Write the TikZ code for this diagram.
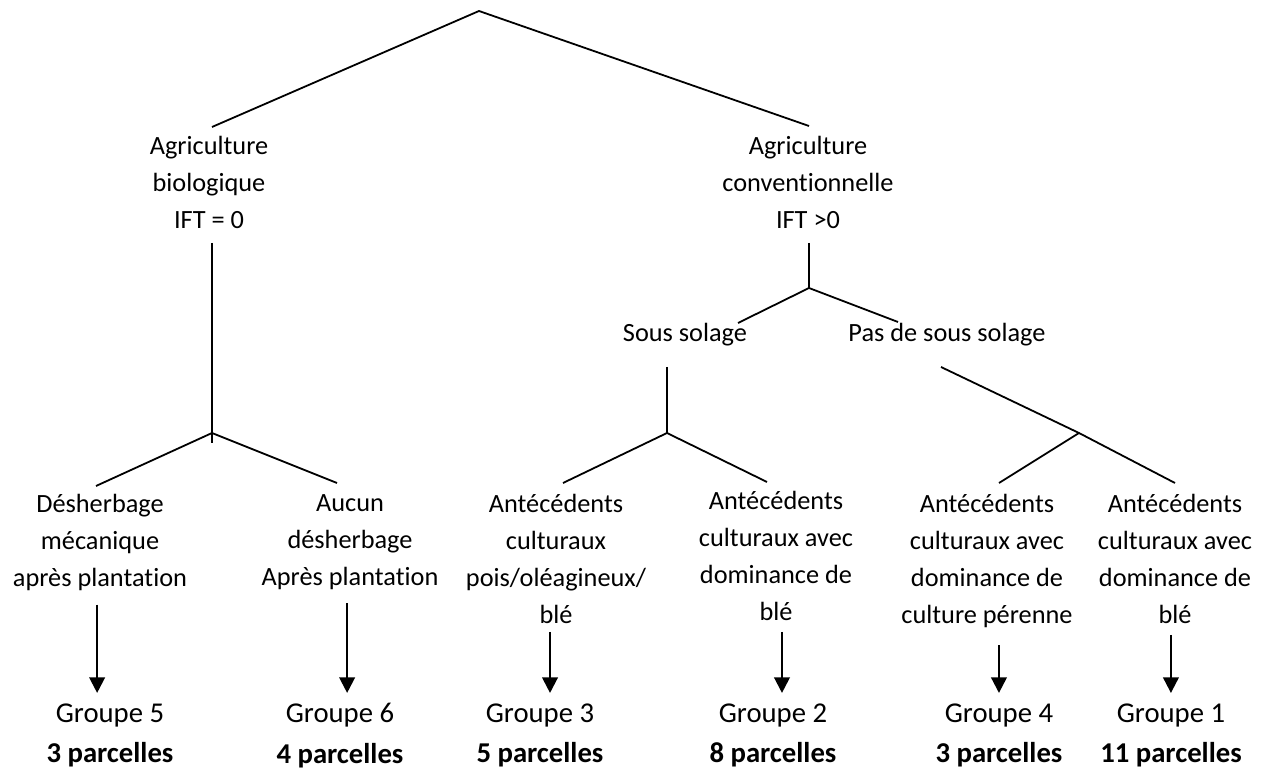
\documentclass[tikz,border=0pt]{standalone}
\usepackage{fontspec}
\setmainfont{Carlito}[Ligatures=NoCommon]
\usetikzlibrary{positioning,arrows.meta}

\tikzset{
  lbl/.style={align=center, inner sep=0pt, anchor=north, font=\fontsize{11}{15.4}\selectfont,
              execute at begin node=\vphantom{d}},
  grp/.style={align=center, inner sep=0pt, anchor=north, font=\fontsize{12}{17}\selectfont,
              execute at begin node=\vphantom{d}},
  branch/.style={line width=0.75pt},
  arr/.style={line width=0.9pt, -{Triangle[width=6.5pt,length=6.5pt]}, shorten >=4.2pt}
}

\begin{document}
\begin{tikzpicture}[x=0.418pt, y=-0.418pt]
    \useasboundingbox (0,0) rectangle (1264,774);
%
    % points of the tree
    \coordinate (root)     at (479,11);
    \coordinate (bioTop)   at (212,127);
    \coordinate (convTop)  at (809,126);
    \coordinate (bioStem)  at (212,243);
    \coordinate (bioJ)     at (212,433);
    \coordinate (bioFoot)  at (212,443);
    \coordinate (mecaTop)  at (96,486);
    \coordinate (aucunTop) at (337,483);
    \coordinate (convStem) at (809,243);
    \coordinate (convJ)    at (809,288);
    \coordinate (solTop)   at (738,323);
    \coordinate (pasTop)   at (898,322);
    \coordinate (solStem)  at (667,367);
    \coordinate (solJ)     at (667,433);
    \coordinate (poisTop)  at (563,483);
    \coordinate (bleATop)  at (767,482);
    \coordinate (pasStem)  at (941,367);
    \coordinate (pasJ)     at (1079,433);
    \coordinate (perTop)   at (999,483);
    \coordinate (bleBTop)  at (1175,483);
%
    \node[lbl] (bio)  at (209,136) {Agriculture\\biologique\\IFT = 0};
    \node[lbl] (conv) at (808,136) {Agriculture\\conventionnelle\\IFT >0};
    \node[lbl, anchor=base] (sol) at (685,342) {Sous solage};
    \node[lbl, anchor=base] (pas) at (947,342) {Pas de sous solage};
%
    \node[lbl] (d1) at (100,494)  {Désherbage\\mécanique\\après plantation};
    \node[lbl] (d2) at (350,494)  {Aucun\\désherbage\\Après plantation};
    \node[lbl] (d3) at (556,494)  {Antécédents\\culturaux\\pois/oléagineux/\\blé};
    \node[lbl] (d4) at (776,491)  {Antécédents\\culturaux avec\\dominance de\\blé};
    \node[lbl] (d5) at (987,494)  {Antécédents\\culturaux avec\\dominance de\\culture pérenne};
    \node[lbl] (d6) at (1175,494) {Antécédents\\culturaux avec\\dominance de\\blé};
%
    \node[grp] (g5) at (110,703)  {Groupe 5\\\textbf{3 parcelles}};
    \node[grp] (g6) at (340,703)  {Groupe 6\\\textbf{4 parcelles}};
    \node[grp] (g3) at (540,703)  {Groupe 3\\\textbf{5 parcelles}};
    \node[grp] (g2) at (773,703)  {Groupe 2\\\textbf{8 parcelles}};
    \node[grp] (g4) at (999,703)  {Groupe 4\\\textbf{3 parcelles}};
    \node[grp] (g1) at (1171,703) {Groupe 1\\\textbf{11 parcelles}};
%
    \draw[branch] (bioTop) -- (root) -- (convTop);
    \draw[branch] (bioStem) -- (bioFoot);
    \draw[branch] (mecaTop) -- (bioJ) -- (aucunTop);
    \draw[branch] (convStem) -- (convJ);
    \draw[branch] (solTop) -- (convJ) -- (pasTop);
    \draw[branch] (solStem) -- (solJ);
    \draw[branch] (poisTop) -- (solJ) -- (bleATop);
    \draw[branch] (pasStem) -- (pasJ) -- (bleBTop);
    \draw[branch] (perTop) -- (pasJ);
%
    \foreach \blk/\grp/\gap/\dx in {d1/g5/5.6/-1.2, d2/g6/5.6/-1.2, d3/g3/3.3/-2.5,
                                    d4/g2/4.6/2.5, d5/g4/7.2/5, d6/g1/4.6/-1.7}
      \draw[arr, shorten <=\gap pt] ([xshift=\dx pt]\blk.south) -- ([xshift=\dx pt]\blk.south |- \grp.north);
  \end{tikzpicture}
\end{document}
